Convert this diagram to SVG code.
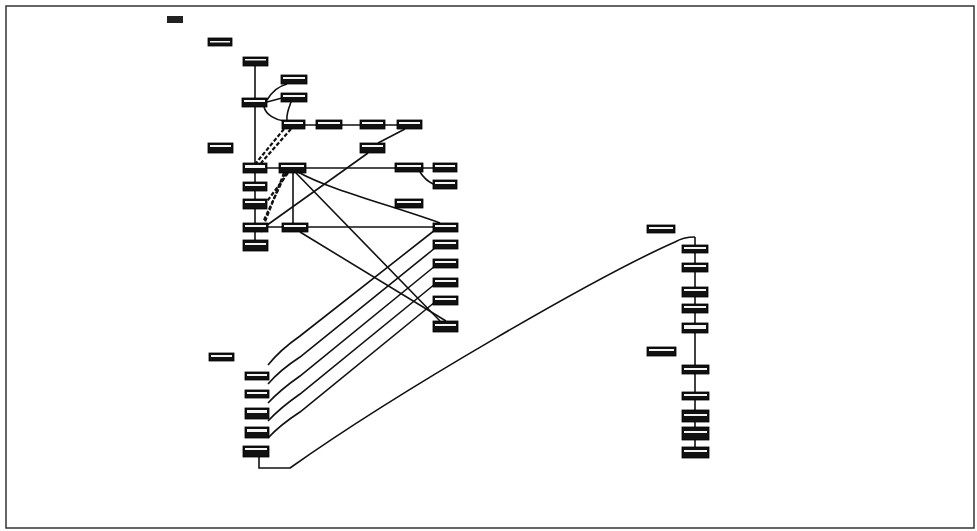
<svg xmlns="http://www.w3.org/2000/svg" width="977" height="531" viewBox="0 0 977 531">
<style>
.n{fill:#111;stroke:#000;stroke-width:0.8}
.w{fill:#f4f4f4}
.c{fill:none;stroke:#111;stroke-width:1.6}
.d{fill:none;stroke:#111;stroke-width:2.2;stroke-dasharray:4 2}
.lg{fill:#222}
</style>
<rect x="0" y="0" width="977" height="531" fill="#fff"/>
<rect x="6" y="6" width="968" height="522" fill="none" stroke="#333" stroke-width="1.5"/>
<g id="legend-title"><rect class="lg" x="167" y="16" width="16" height="7"/></g>
<g id="connectors">
<path class="c" d="M255,66 V240"/>
<path class="c" d="M267,168 H433"/>
<path class="c" d="M267,227 H433"/>
<path class="c" d="M293,173 V223"/>
<path class="c" d="M420,172 Q425,180 433,184"/>
<path class="c" d="M305,125 H316 M342,125 H360 M385,125 H397"/>
<path class="c" d="M405,129 L378,143"/>
<path class="c" d="M368,153 L263,228"/>
<path class="c" d="M298,172 C330,190 390,205 440,223"/>
<path class="c" d="M296,173 L440,321"/>
<path class="c" d="M300,232 L446,321"/>
<path class="d" d="M288,173 L265,204"/>
<path class="d" d="M286,173 L264,220"/>
<path class="d" d="M284,173 L261,232"/>
<path class="d" d="M284,129 L256,163"/>
<path class="d" d="M291,129 L261,163"/>
<path class="c" d="M267,100 C273,90 279,86 287,84"/>
<path class="c" d="M267,102 L282,98"/>
<path class="c" d="M264,107 C266,115 276,120 284,121"/>
<path class="c" d="M291,102 C288,110 286,115 287,120"/>
<path class="c" d="M268,365 Q280,350 300,336 L435,230"/>
<path class="c" d="M268,384 Q280,370 300,357 L435,248"/>
<path class="c" d="M268,403 Q280,390 300,376 L435,266"/>
<path class="c" d="M268,421 Q280,408 300,394 L435,284"/>
<path class="c" d="M268,438 Q280,425 300,412 L435,302"/>
<path class="c" d="M259,457 V468 H290 C400,390 600,275 675,242 Q683,237 695,237"/>
<path class="c" d="M695,237 V458"/>
</g>
<g id="n1"><rect class="n" x="208" y="38" width="24" height="8"/><rect class="w" x="210" y="41" width="20" height="1.5"/></g>
<g id="n2"><rect class="n" x="243" y="57" width="25" height="9"/><rect class="w" x="245" y="59" width="21" height="1.5"/></g>
<g id="n3"><rect class="n" x="281" y="75" width="26" height="9"/><rect class="w" x="283" y="77" width="22" height="2"/></g>
<g id="n4"><rect class="n" x="281" y="93" width="26" height="9"/><rect class="w" x="283" y="95" width="22" height="2"/></g>
<g id="n5"><rect class="n" x="242" y="98" width="25" height="9"/><rect class="w" x="244" y="100" width="21" height="2"/></g>
<g id="n6"><rect class="n" x="282" y="120" width="23" height="9"/><rect class="w" x="284" y="122" width="19" height="2"/></g>
<g id="n7"><rect class="n" x="316" y="120" width="26" height="9"/><rect class="w" x="318" y="122" width="22" height="2"/></g>
<g id="n8"><rect class="n" x="360" y="120" width="25" height="9"/><rect class="w" x="362" y="122" width="21" height="2"/></g>
<g id="n9"><rect class="n" x="397" y="120" width="25" height="9"/><rect class="w" x="399" y="122" width="21" height="2"/></g>
<g id="n10"><rect class="n" x="360" y="143" width="25" height="10"/><rect class="w" x="362" y="145" width="21" height="2"/></g>
<g id="n11"><rect class="n" x="208" y="143" width="25" height="10"/><rect class="w" x="210" y="145" width="21" height="2"/></g>
<g id="n12"><rect class="n" x="243" y="163" width="24" height="10"/><rect class="w" x="245" y="165" width="20" height="3"/></g>
<g id="n13"><rect class="n" x="279" y="163" width="27" height="10"/><rect class="w" x="281" y="165" width="23" height="2"/></g>
<g id="n14"><rect class="n" x="395" y="163" width="28" height="9"/><rect class="w" x="397" y="165" width="24" height="2"/></g>
<g id="n15"><rect class="n" x="433" y="163" width="24" height="9"/><rect class="w" x="435" y="165" width="20" height="2"/></g>
<g id="n16"><rect class="n" x="433" y="180" width="24" height="9"/><rect class="w" x="435" y="182" width="20" height="2"/></g>
<g id="n17"><rect class="n" x="243" y="182" width="24" height="9"/><rect class="w" x="245" y="184" width="20" height="2"/></g>
<g id="n18"><rect class="n" x="243" y="199" width="24" height="10"/><rect class="w" x="245" y="201" width="20" height="2"/></g>
<g id="n19"><rect class="n" x="395" y="199" width="28" height="9"/><rect class="w" x="397" y="201" width="24" height="2"/></g>
<g id="n20"><rect class="n" x="243" y="223" width="25" height="9"/><rect class="w" x="245" y="225" width="21" height="2"/></g>
<g id="n21"><rect class="n" x="282" y="223" width="26" height="9"/><rect class="w" x="284" y="225" width="22" height="2"/></g>
<g id="n22"><rect class="n" x="433" y="223" width="25" height="9"/><rect class="w" x="435" y="225" width="21" height="2"/></g>
<g id="n23"><rect class="n" x="243" y="240" width="25" height="11"/><rect class="w" x="245" y="243" width="21" height="2"/></g>
<g id="n24"><rect class="n" x="433" y="240" width="25" height="9"/><rect class="w" x="435" y="242" width="21" height="2"/></g>
<g id="n25"><rect class="n" x="433" y="259" width="25" height="9"/><rect class="w" x="435" y="261" width="21" height="2"/></g>
<g id="n26"><rect class="n" x="433" y="278" width="25" height="9"/><rect class="w" x="435" y="280" width="21" height="2"/></g>
<g id="n27"><rect class="n" x="433" y="296" width="25" height="9"/><rect class="w" x="435" y="298" width="21" height="2"/></g>
<g id="n28"><rect class="n" x="433" y="321" width="25" height="11"/><rect class="w" x="435" y="324" width="21" height="2"/></g>
<g id="n29"><rect class="n" x="209" y="353" width="25" height="8"/><rect class="w" x="211" y="355" width="21" height="2"/></g>
<g id="n30"><rect class="n" x="245" y="372" width="24" height="8"/><rect class="w" x="247" y="374" width="20" height="2"/></g>
<g id="n31"><rect class="n" x="245" y="390" width="24" height="8"/><rect class="w" x="247" y="392" width="20" height="2"/></g>
<g id="n32"><rect class="n" x="245" y="408" width="24" height="11"/><rect class="w" x="247" y="410" width="20" height="3"/></g>
<g id="n33"><rect class="n" x="245" y="427" width="24" height="11"/><rect class="w" x="247" y="429" width="20" height="3"/></g>
<g id="n34"><rect class="n" x="243" y="446" width="26" height="11"/><rect class="w" x="245" y="448" width="22" height="2"/></g>
<g id="n35"><rect class="n" x="647" y="225" width="28" height="8"/><rect class="w" x="649" y="227" width="24" height="2"/></g>
<g id="n36"><rect class="n" x="682" y="245" width="26" height="8"/><rect class="w" x="684" y="247" width="22" height="2"/></g>
<g id="n37"><rect class="n" x="682" y="263" width="26" height="9"/><rect class="w" x="684" y="265" width="22" height="2"/></g>
<g id="n38"><rect class="n" x="682" y="287" width="26" height="10"/><rect class="w" x="684" y="289" width="22" height="2"/></g>
<g id="n39"><rect class="n" x="682" y="304" width="26" height="9"/><rect class="w" x="684" y="306" width="22" height="2"/></g>
<g id="n40"><rect class="n" x="682" y="323" width="26" height="10"/><rect class="w" x="684" y="325" width="22" height="4"/></g>
<g id="n41"><rect class="n" x="647" y="347" width="29" height="9"/><rect class="w" x="649" y="349" width="25" height="2"/></g>
<g id="n42"><rect class="n" x="682" y="365" width="27" height="9"/><rect class="w" x="684" y="368" width="23" height="2"/></g>
<g id="n43"><rect class="n" x="682" y="392" width="27" height="8"/><rect class="w" x="684" y="394" width="23" height="2"/></g>
<g id="n44"><rect class="n" x="682" y="410" width="27" height="12"/><rect class="w" x="684" y="414" width="23" height="2"/></g>
<g id="n45"><rect class="n" x="682" y="427" width="27" height="13"/><rect class="w" x="684" y="431" width="23" height="2"/></g>
<g id="n46"><rect class="n" x="682" y="447" width="27" height="11"/><rect class="w" x="684" y="450" width="23" height="2"/></g>
</svg>
